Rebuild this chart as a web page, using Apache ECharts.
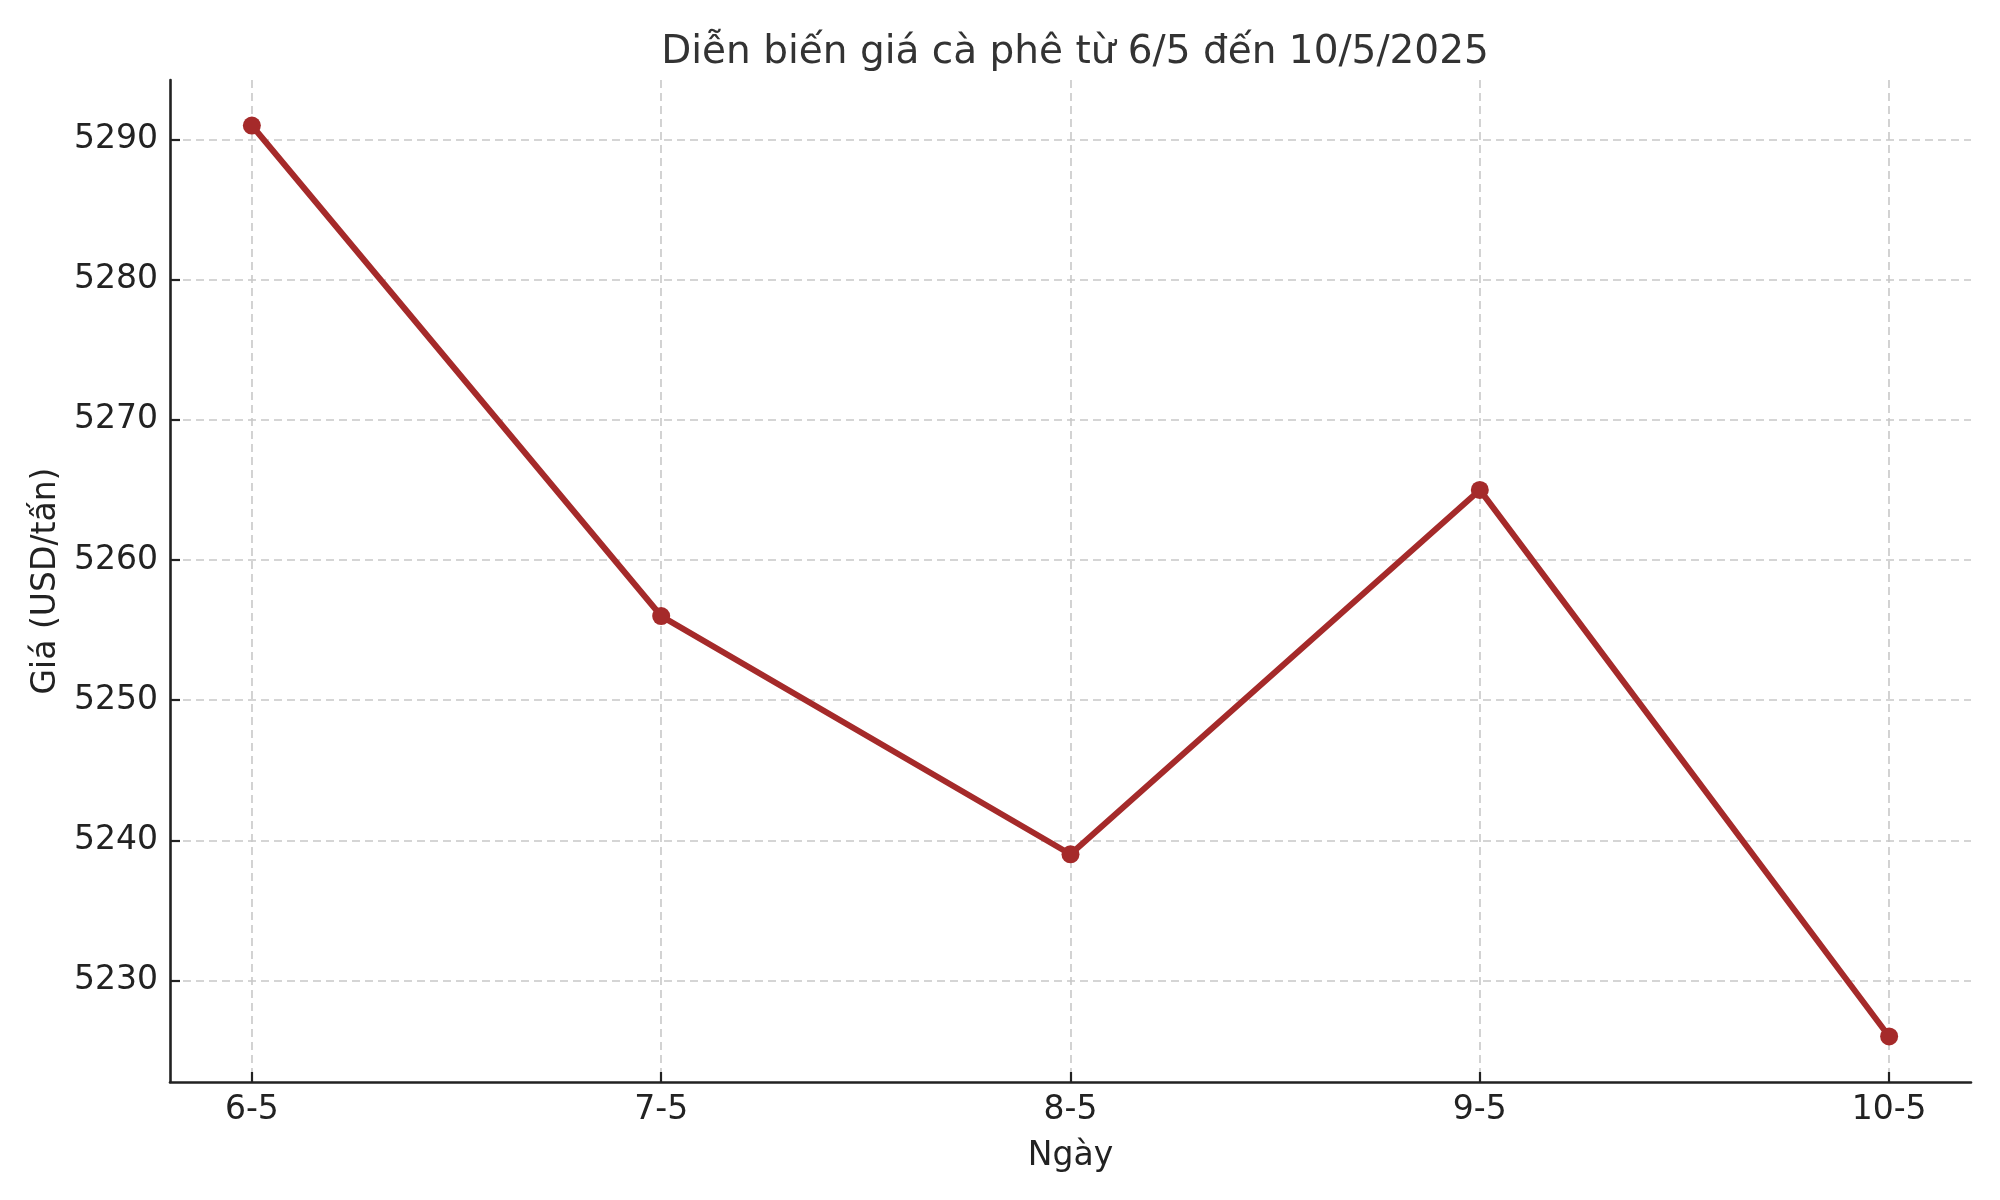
<!DOCTYPE html>
<html>
<head>
<meta charset="utf-8">
<script src="https://cdn.jsdelivr.net/npm/echarts@6/dist/echarts.min.js"></script>
<style>
html,body{margin:0;padding:0;background:#fff;}
#chart{width:2000px;height:1200px;}
</style>
</head>
<body>
<div id="chart"></div>
<script>
const categories = ['6-5', '7-5', '8-5', '9-5', '10-5'];
const prices = [5291, 5256, 5239, 5265, 5226];
const yTicks = [5230, 5240, 5250, 5260, 5270, 5280, 5290];
const titleText = 'Diễn biến giá cà phê từ 6/5 đến 10/5/2025';
const xName = 'Ngày';
const yName = 'Giá (USD/tấn)';

const xIdx = categories.map((c, i) => i);
const seriesData = prices.map((v, i) => [i, v]);
const yMin = Math.min(...prices), yMax = Math.max(...prices);
const yPad = (yMax - yMin) * 0.05;
const xPad = (categories.length - 1) * 0.05;

const FONT = 'DejaVu Sans';
const chart = echarts.init(document.getElementById('chart'), null, {renderer: 'canvas'});
const gridLine = {show: true, lineStyle: {color: '#c8c8c8', width: 1.6, type: [8, 5]}};
chart.setOption({
  animation: false,
  backgroundColor: '#ffffff',
  title: {
    text: titleText, left: 1070, textAlign: 'center', top: 28,
    textStyle: {fontFamily: FONT, fontSize: 39, fontWeight: 'normal', color: '#333333'}
  },
  grid: {left: 170, right: 29, top: 80, bottom: 118, containLabel: false},
  xAxis: {
    type: 'value',
    min: -xPad, max: categories.length - 1 + xPad,
    name: xName, nameLocation: 'middle', nameGap: 58,
    nameTextStyle: {fontFamily: FONT, fontSize: 33, color: '#222222'},
    axisLine: {show: true, onZero: false, lineStyle: {color: '#222222', width: 2.6}},
    axisTick: {show: true, inside: true, length: 10, customValues: xIdx, lineStyle: {color: '#222222', width: 2.2}},
    axisLabel: {customValues: xIdx, formatter: v => categories[Math.round(v)], margin: 12,
      fontFamily: FONT, fontSize: 33, color: '#222222'},
    splitLine: gridLine
  },
  yAxis: {
    type: 'value',
    min: yMin - yPad, max: yMax + yPad,
    name: yName, nameLocation: 'middle', nameGap: 104, nameRotate: 90,
    nameTextStyle: {fontFamily: FONT, fontSize: 33, color: '#222222'},
    axisLine: {show: true, onZero: false, lineStyle: {color: '#222222', width: 2.6}},
    axisTick: {show: true, inside: true, length: 10, customValues: yTicks, lineStyle: {color: '#222222', width: 2.2}},
    axisLabel: {customValues: yTicks, formatter: v => String(v), margin: 12,
      fontFamily: FONT, fontSize: 33, color: '#222222'},
    splitLine: gridLine
  },
  series: [{
    type: 'line',
    data: seriesData,
    symbol: 'circle', symbolSize: 18,
    lineStyle: {color: '#a52a2a', width: 6},
    itemStyle: {color: '#a52a2a'},
    z: 5
  }]
});
</script>
</body>
</html>
